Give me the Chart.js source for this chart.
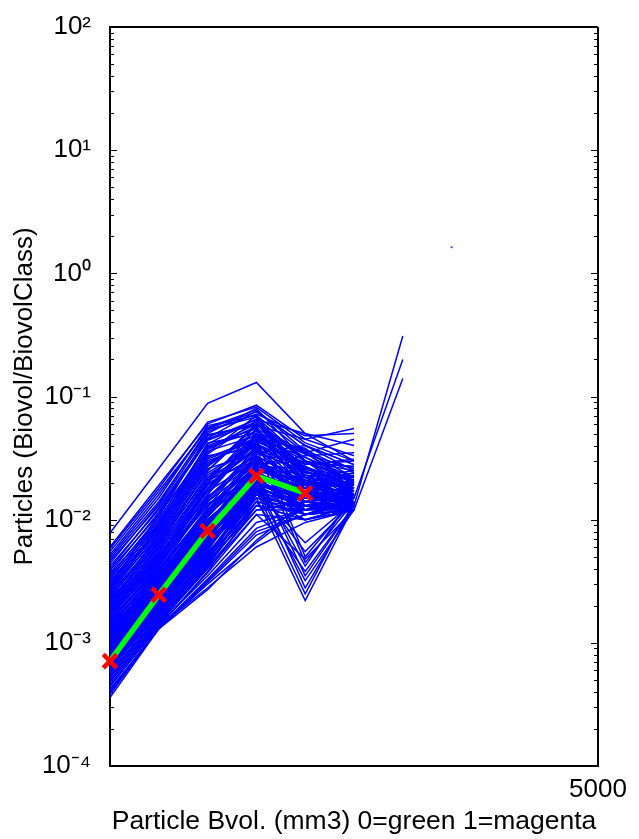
<!DOCTYPE html>
<html>
<head>
  <title>Particles vs Bvol</title>
  <script src="https://cdn.jsdelivr.net/npm/chart.js"></script>
  <style>
    body { margin: 0; background: #fff; }
  </style>
</head>
<body>
  <canvas id="canvas" width="639" height="839"></canvas>
  <script>
    // x positions of the size classes
    var xBins = [0, 500, 1000, 1500, 2000, 2500, 3000];
    var xTickValues = [5000];
    var xTickLabels = ['5000'];
    var yTickValues = [1e-4, 1e-3, 1e-2, 1e-1, 1, 10, 100];
    var yTickLabels = ['10\u207B\u2074', '10\u207B\u00B3', '10\u207B\u00B2', '10\u207B\u00B9', '10\u2070', '10\u00B9', '10\u00B2'];

    // individual profiles (blue)
    var bluesHigh = [
      [7.8e-3, 2.6e-2, 8.8e-2, 0.13, 0.05, 0.03],
      [6.0e-3, 1.9e-2, 6.0e-2, 0.085, 0.045, 0.055],
      [5.8e-3, 1.8e-2, 6.2e-2, 0.082, 0.042, 0.03],
      [5.5e-3, 1.7e-2, 5.5e-2, 0.075, 0.04, 0.025],
      [5.2e-3, 1.6e-2, 5.6e-2, 0.078, 0.036, 0.022],
      [5.0e-3, 1.5e-2, 5.8e-2, 0.07, 0.035, 0.02],
      [4.8e-3, 1.4e-2, 5.2e-2, 0.072, 0.048, 0.05],
      [4.6e-3, 1.3e-2, 5.0e-2, 0.08, 0.03, 0.018],
      [4.4e-3, 1.35e-2, 5.4e-2, 0.068, 0.03, 0.02],
      [4.2e-3, 1.2e-2, 4.5e-2, 0.065, 0.05, 0.04],
      [4.0e-3, 1.25e-2, 4.6e-2, 0.076, 0.04, 0.028],
      [3.9e-3, 1.1e-2, 4.8e-2, 0.06, 0.025, 0.016],
      [3.7e-3, 1.15e-2, 4.4e-2, 0.062, 0.026, 0.018],
      [3.6e-3, 1.0e-2, 4.0e-2, 0.055, 0.032, 0.022],
      [3.5e-3, 1.05e-2, 4.9e-2, 0.058, 0.045, 0.033],
      [3.4e-3, 9.5e-3, 3.5e-2, 0.07, 0.02, 0.014],
      [3.3e-3, 1.0e-2, 4.1e-2, 0.066, 0.022, 0.015],
      [3.2e-3, 9.0e-3, 4.2e-2, 0.05, 0.028, 0.03],
      [3.1e-3, 9.2e-3, 3.9e-2, 0.052, 0.034, 0.026],
      [3.0e-3, 8.5e-3, 3.2e-2, 0.045, 0.038, 0.019],
      [2.95e-3, 9.6e-3, 3.6e-2, 0.048, 0.02, 0.016],
      [2.9e-3, 1.1e-2, 3.8e-2, 0.06, 0.022, 0.013],
      [2.85e-3, 8.8e-3, 3.4e-2, 0.064, 0.03, 0.021],
      [2.8e-3, 8.0e-3, 3.0e-2, 0.042, 0.018, 0.024],
      [2.75e-3, 8.2e-3, 3.1e-2, 0.044, 0.027, 0.019],
      [2.7e-3, 7.5e-3, 2.8e-2, 0.05, 0.035, 0.045],
      [2.65e-3, 8.6e-3, 3.7e-2, 0.057, 0.016, 0.014],
      [2.6e-3, 9.0e-3, 3.3e-2, 0.038, 0.015, 0.017],
      [2.55e-3, 7.8e-3, 2.9e-2, 0.047, 0.037, 0.024],
      [2.45e-3, 7.2e-3, 2.7e-2, 0.053, 0.023, 0.017],
      [2.35e-3, 6.8e-3, 2.4e-2, 0.041, 0.028, 0.031],
      [2.25e-3, 6.4e-3, 2.5e-2, 0.058, 0.035, 0.019],
      [2.15e-3, 6.6e-3, 2.2e-2, 0.036, 0.018, 0.016],
      [2.05e-3, 5.8e-3, 2.1e-2, 0.049, 0.024, 0.022]
    ];
    var bluesMid = [
      [2.5e-3, 7.0e-3, 2.5e-2, 0.06, 0.03, 0.02],
      [2.4e-3, 6.5e-3, 2.2e-2, 0.045, 0.025, 0.015],
      [2.3e-3, 7.5e-3, 2.6e-2, 0.035, 0.04, 0.028],
      [2.2e-3, 6.0e-3, 2.0e-2, 0.055, 0.02, 0.013],
      [2.1e-3, 6.2e-3, 2.3e-2, 0.04, 0.016, 0.021],
      [2.0e-3, 5.5e-3, 1.8e-2, 0.048, 0.03, 0.016],
      [1.98e-3, 5.6e-3, 1.95e-2, 0.033, 0.013, 0.013],
      [1.95e-3, 6.0e-3, 2.1e-2, 0.03, 0.012, 0.014],
      [1.92e-3, 5.4e-3, 2.0e-2, 0.043, 0.029, 0.027],
      [1.9e-3, 5.2e-3, 1.7e-2, 0.042, 0.022, 0.025],
      [1.85e-3, 5.0e-3, 1.9e-2, 0.037, 0.027, 0.018],
      [1.82e-3, 5.1e-3, 1.8e-2, 0.039, 0.017, 0.015],
      [1.8e-3, 4.8e-3, 1.6e-2, 0.05, 0.019, 0.012],
      [1.75e-3, 5.3e-3, 1.5e-2, 0.032, 0.014, 0.02],
      [1.72e-3, 4.9e-3, 1.75e-2, 0.046, 0.032, 0.02],
      [1.7e-3, 4.6e-3, 1.4e-2, 0.028, 0.033, 0.035],
      [1.65e-3, 4.4e-3, 1.6e-2, 0.045, 0.005, 0.015],
      [1.62e-3, 4.7e-3, 1.55e-2, 0.029, 0.021, 0.018],
      [1.6e-3, 4.5e-3, 1.3e-2, 0.026, 0.018, 0.013],
      [1.55e-3, 4.2e-3, 1.5e-2, 0.036, 0.024, 0.022],
      [1.52e-3, 4.1e-3, 1.45e-2, 0.038, 0.0045, 0.014],
      [1.5e-3, 4.0e-3, 1.2e-2, 0.03, 0.015, 0.017],
      [1.48e-3, 4.4e-3, 1.3e-2, 0.027, 0.019, 0.023],
      [1.45e-3, 4.3e-3, 1.35e-2, 0.022, 0.011, 0.014],
      [1.42e-3, 3.9e-3, 1.4e-2, 0.035, 0.025, 0.017],
      [1.4e-3, 3.8e-3, 1.25e-2, 0.04, 0.026, 0.019],
      [1.38e-3, 3.6e-3, 1.1e-2, 0.033, 0.02, 0.024],
      [1.36e-3, 3.7e-3, 1.2e-2, 0.025, 0.014, 0.012],
      [1.35e-3, 3.9e-3, 1.15e-2, 0.024, 0.0035, 0.013],
      [1.32e-3, 3.5e-3, 1.15e-2, 0.032, 0.022, 0.02],
      [1.3e-3, 3.5e-3, 1.05e-2, 0.028, 0.017, 0.016],
      [1.28e-3, 3.4e-3, 1.2e-2, 0.034, 0.029, 0.027],
      [1.26e-3, 3.4e-3, 1.1e-2, 0.023, 0.016, 0.016],
      [1.25e-3, 3.3e-3, 1.0e-2, 0.02, 0.013, 0.015],
      [1.22e-3, 3.6e-3, 9.5e-3, 0.025, 0.021, 0.012],
      [1.21e-3, 3.3e-3, 1.05e-2, 0.028, 0.03, 0.025],
      [1.2e-3, 3.2e-3, 1.1e-2, 0.031, 0.016, 0.018],
      [1.18e-3, 3.1e-3, 9.8e-3, 0.019, 0.012, 0.014],
      [1.16e-3, 3.1e-3, 9.6e-3, 0.021, 0.0028, 0.013],
      [1.15e-3, 3.0e-3, 9.0e-3, 0.027, 0.023, 0.021],
      [1.13e-3, 3.05e-3, 9.3e-3, 0.026, 0.02, 0.019],
      [1.12e-3, 3.3e-3, 1.0e-2, 0.023, 0.0042, 0.016],
      [1.1e-3, 2.9e-3, 8.8e-3, 0.021, 0.014, 0.013],
      [1.09e-3, 2.95e-3, 9.0e-3, 0.019, 0.015, 0.015],
      [1.08e-3, 2.8e-3, 9.2e-3, 0.029, 0.019, 0.02],
      [1.06e-3, 2.85e-3, 8.6e-3, 0.024, 0.017, 0.014],
      [1.05e-3, 2.7e-3, 8.5e-3, 0.018, 0.011, 0.015],
      [1.03e-3, 2.75e-3, 8.3e-3, 0.022, 0.012, 0.018],
      [1.02e-3, 3.0e-3, 8.0e-3, 0.024, 0.025, 0.017],
      [1.01e-3, 2.65e-3, 8.9e-3, 0.027, 0.026, 0.022],
      [1.0e-3, 2.6e-3, 8.7e-3, 0.02, 0.013, 0.012],
      [9.8e-4, 2.7e-3, 7.8e-3, 0.026, 0.017, 0.023],
      [9.6e-4, 2.5e-3, 8.2e-3, 0.017, 0.0025, 0.014]
    ];
    var bluesLow = [
      [9.7e-4, 2.55e-3, 7.9e-3, 0.02, 0.014, 0.013],
      [9.4e-4, 2.5e-3, 7.5e-3, 0.022, 0.015, 0.019],
      [9.3e-4, 2.45e-3, 7.6e-3, 0.023, 0.018, 0.017],
      [9.2e-4, 2.4e-3, 7.2e-3, 0.019, 0.012, 0.013],
      [9.0e-4, 2.6e-3, 7.0e-3, 0.025, 0.02, 0.016],
      [8.9e-4, 2.4e-3, 7.1e-3, 0.018, 0.0032, 0.012],
      [8.8e-4, 2.3e-3, 6.8e-3, 0.016, 0.01, 0.012],
      [8.6e-4, 2.2e-3, 7.4e-3, 0.021, 0.018, 0.02],
      [8.5e-4, 2.3e-3, 6.9e-3, 0.02, 0.015, 0.014],
      [8.4e-4, 2.35e-3, 6.5e-3, 0.018, 0.0055, 0.014],
      [8.2e-4, 2.1e-3, 6.6e-3, 0.023, 0.016, 0.015],
      [8.1e-4, 2.2e-3, 6.7e-3, 0.017, 0.013, 0.016],
      [8.0e-4, 2.2e-3, 6.2e-3, 0.015, 0.013, 0.013],
      [7.8e-4, 2.0e-3, 6.0e-3, 0.02, 0.022, 0.018],
      [7.7e-4, 2.05e-3, 6.3e-3, 0.019, 0.016, 0.013],
      [7.6e-4, 2.1e-3, 6.4e-3, 0.017, 0.011, 0.012],
      [7.4e-4, 1.95e-3, 5.8e-3, 0.024, 0.014, 0.016],
      [7.3e-4, 1.98e-3, 6.1e-3, 0.016, 0.012, 0.015],
      [7.2e-4, 1.9e-3, 5.5e-3, 0.014, 0.0038, 0.013],
      [7.0e-4, 2.0e-3, 5.9e-3, 0.019, 0.017, 0.021],
      [6.9e-4, 1.9e-3, 5.7e-3, 0.018, 0.02, 0.018],
      [6.8e-4, 1.85e-3, 5.3e-3, 0.016, 0.012, 0.014],
      [6.6e-4, 1.8e-3, 5.6e-3, 0.021, 0.019, 0.015],
      [6.5e-4, 1.8e-3, 5.4e-3, 0.015, 0.011, 0.012],
      [6.4e-4, 1.75e-3, 5.0e-3, 0.013, 0.01, 0.012],
      [6.2e-4, 1.7e-3, 5.2e-3, 0.018, 0.014, 0.017],
      [6.1e-4, 1.72e-3, 5.1e-3, 0.017, 0.0065, 0.014],
      [6.0e-4, 1.8e-3, 4.8e-3, 0.015, 0.0022, 0.013],
      [5.8e-4, 1.65e-3, 4.9e-3, 0.017, 0.016, 0.014],
      [5.7e-4, 1.62e-3, 4.7e-3, 0.014, 0.013, 0.013],
      [5.6e-4, 1.6e-3, 4.6e-3, 0.012, 0.012, 0.012],
      [5.4e-4, 1.55e-3, 4.5e-3, 0.02, 0.013, 0.016],
      [5.3e-4, 1.52e-3, 4.4e-3, 0.013, 0.012, 0.016],
      [5.2e-4, 1.5e-3, 4.2e-3, 0.014, 0.011, 0.013],
      [5.0e-4, 1.45e-3, 4.0e-3, 0.011, 0.0048, 0.012],
      [4.9e-4, 1.45e-3, 4.1e-3, 0.012, 0.014, 0.012],
      [4.8e-4, 1.4e-3, 4.3e-3, 0.016, 0.015, 0.015],
      [4.6e-4, 1.35e-3, 3.8e-3, 0.013, 0.01, 0.013],
      [4.5e-4, 1.38e-3, 3.7e-3, 0.011, 0.01, 0.013],
      [4.4e-4, 1.4e-3, 3.5e-3, 0.0095, 0.012, 0.014],
      [4.2e-4, 1.3e-3, 3.2e-3, 0.008, 0.011, 0.012],
      [4.1e-4, 1.33e-3, 3.3e-3, 0.0085, 0.012, 0.014],
      [4.0e-4, 1.3e-3, 3.0e-3, 0.0065, 0.013, 0.013],
      [3.9e-4, 1.3e-3, 3.1e-3, 0.0075, 0.011, 0.012],
      [3.8e-4, 1.35e-3, 2.8e-3, 0.006, 0.0095, 0.012],
      [3.6e-4, 1.3e-3, 2.7e-3, 0.0068, 0.014, 0.015]
    ];
    // the three profiles that reach the 3000 class
    var bluesLong = [
      [1.6e-3, 4.8e-3, 1.7e-2, 0.03, 0.02, 0.013, 0.31],
      [1.1e-3, 3.2e-3, 1.0e-2, 0.022, 0.016, 0.015, 0.2],
      [8.0e-4, 2.3e-3, 7.5e-3, 0.018, 0.013, 0.012, 0.14]
    ];
    // mean profile (green with red crosses)
    var meanProfile = [7.1e-4, 2.45e-3, 8.1e-3, 0.0226, 0.0164];
    // lone point far right
    var strayX = [3500];
    var strayY = [1.63];

    function toPoints(vals) {
      return vals.map(function (v, i) { return { x: xBins[i], y: v }; });
    }

    var datasets = [];
    datasets.push({
      data: toPoints(meanProfile),
      borderColor: '#00ff00',
      borderWidth: 5.5,
      pointStyle: 'crossRot',
      pointRadius: 9.5,
      pointBorderWidth: 4.5,
      pointBorderColor: '#ff0000',
      pointBackgroundColor: '#ff0000',
      clip: false,
      order: 0
    });
    bluesHigh.concat(bluesMid, bluesLow, bluesLong).forEach(function (s) {
      datasets.push({
        data: toPoints(s),
        borderColor: '#0000ff',
        borderWidth: 1.5,
        pointRadius: 0,
        order: 1
      });
    });
    datasets.push({
      data: strayX.map(function (x, i) { return { x: x, y: strayY[i] }; }),
      showLine: false,
      pointStyle: 'rect',
      pointRadius: 1.4,
      pointBorderWidth: 0,
      pointBorderColor: '#4444ff',
      pointBackgroundColor: '#4444ff',
      order: 1
    });

    var FONT = "'Liberation Sans', Arial, Helvetica, sans-serif";

    // box round the plot and log ticks pointing inwards
    var framePlugin = {
      id: 'frame',
      beforeDatasetsDraw: function (chart) {
        var c = chart.ctx, a = chart.chartArea, y = chart.scales.y;
        c.save();
        c.strokeStyle = '#000';
        c.lineWidth = 2;
        c.beginPath();
        c.moveTo(a.left, a.top); c.lineTo(a.right, a.top);
        c.moveTo(a.right, a.top); c.lineTo(a.right, a.bottom);
        c.stroke();
        c.lineWidth = 1;
        c.beginPath();
        for (var e = -4; e < 2; e++) {
          for (var m = 1; m <= 9; m++) {
            var py = Math.round(y.getPixelForValue(m * Math.pow(10, e))) + 0.5;
            var len = m === 1 ? 7 : 4;
            c.moveTo(a.left, py); c.lineTo(a.left + len, py);
            c.moveTo(a.right, py); c.lineTo(a.right - len, py);
          }
        }
        c.stroke();
        c.restore();
      }
    };

    var ctx = document.getElementById('canvas').getContext('2d');
    var chart = new Chart(ctx, {
      type: 'line',
      data: { datasets: datasets },
      options: {
        responsive: false,
        animation: false,
        devicePixelRatio: 1,
        layout: { autoPadding: false, padding: { top: 27, right: 41, left: 0, bottom: 0 } },
        plugins: { legend: { display: false }, tooltip: { enabled: false } },
        scales: {
          x: {
            type: 'linear',
            min: 0,
            max: 5000,
            grid: { display: false, drawTicks: false },
            border: { display: true, color: '#000', width: 2 },
            afterBuildTicks: function (s) { s.ticks = xTickValues.map(function (v) { return { value: v }; }); },
            afterFit: function (s) { s.height = 73; s.paddingLeft = 0; s.paddingRight = 0; },
            ticks: {
              autoSkip: false,
              maxRotation: 0,
              padding: 8,
              color: '#000',
              font: { family: FONT, size: 26 },
              callback: function (v, i) { return xTickLabels[i]; }
            },
            title: {
              display: true,
              text: 'Particle Bvol. (mm3) 0=green 1=magenta',
              color: '#000',
              font: { family: FONT, size: 26.5 },
              padding: { top: 0, bottom: 1 }
            }
          },
          y: {
            type: 'logarithmic',
            min: 1e-4,
            max: 100,
            grid: { display: false, drawTicks: false },
            border: { display: true, color: '#000', width: 2 },
            afterBuildTicks: function (s) { s.ticks = yTickValues.map(function (v) { return { value: v }; }); },
            afterFit: function (s) { s.width = 110; s.paddingTop = 0; s.paddingBottom = 0; },
            ticks: {
              autoSkip: false,
              padding: 19,
              color: '#000',
              font: { family: FONT, size: 26 },
              callback: function (v, i) { return yTickLabels[i]; }
            },
            title: {
              display: true,
              text: 'Particles (Biovol/BiovolClass)',
              color: '#000',
              font: { family: FONT, size: 26 },
              padding: { top: 9, bottom: 0 }
            }
          }
        }
      },
      plugins: [framePlugin]
    });
  </script>
</body>
</html>
